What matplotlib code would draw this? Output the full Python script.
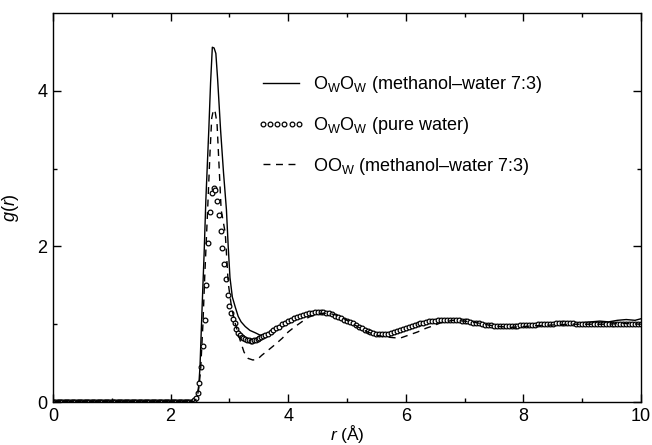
import numpy as np
import matplotlib
matplotlib.use("Agg")
import matplotlib.pyplot as plt

plt.rcParams["font.family"] = ["Liberation Sans", "DejaVu Sans"]
plt.rcParams["mathtext.fontset"] = "custom"
plt.rcParams["mathtext.rm"] = "Liberation Sans"
plt.rcParams["mathtext.it"] = "Liberation Sans:italic"

# O_W O_W in methanol-water 7:3 (solid line)
r_ww_mix = [0.0, 2.35, 2.40, 2.45, 2.48, 2.50, 2.54, 2.57, 2.60, 2.65, 2.68, 2.71,
            2.74, 2.77, 2.80, 2.85, 2.90, 2.95, 2.98, 3.01, 3.05, 3.10, 3.15, 3.20,
            3.27, 3.35, 3.44, 3.52, 3.60, 3.70, 3.80, 3.90, 4.00, 4.10, 4.20, 4.30,
            4.40, 4.50, 4.60, 4.70, 4.80, 4.90, 5.00, 5.10, 5.20, 5.30, 5.40, 5.50,
            5.60, 5.70, 5.80, 5.90, 6.00, 6.20, 6.40, 6.60, 6.80, 7.00, 7.20, 7.40,
            7.60, 7.80, 8.00, 8.20, 8.40, 8.60, 8.80, 9.00, 9.15, 9.30, 9.45, 9.60,
            9.75, 9.90, 10.0]
g_ww_mix = [0.0, 0.0, 0.01, 0.06, 0.22, 0.45, 1.30, 1.90, 2.60, 3.50, 4.10, 4.56,
            4.55, 4.48, 4.15, 3.50, 2.95, 2.47, 2.00, 1.60, 1.35, 1.22, 1.10, 1.03,
            0.97, 0.92, 0.89, 0.86, 0.86, 0.90, 0.95, 0.99, 1.03, 1.07, 1.09, 1.11,
            1.13, 1.14, 1.14, 1.13, 1.11, 1.08, 1.04, 1.00, 0.96, 0.93, 0.90, 0.88,
            0.875, 0.88, 0.90, 0.92, 0.95, 1.00, 1.03, 1.05, 1.06, 1.05, 1.02, 0.99,
            0.98, 0.98, 0.985, 0.995, 1.00, 1.01, 1.01, 1.02, 1.03, 1.04, 1.03, 1.05,
            1.06, 1.05, 1.07]

# O O_W in methanol-water 7:3 (dashed line)
r_ow_mix = [0.0, 2.35, 2.40, 2.45, 2.48, 2.51, 2.55, 2.58, 2.63, 2.67, 2.70, 2.73,
            2.76, 2.79, 2.86, 2.93, 2.98, 3.04, 3.10, 3.18, 3.25, 3.32, 3.40, 3.48,
            3.55, 3.65, 3.78, 3.90, 4.00, 4.10, 4.23, 4.35, 4.45, 4.55, 4.65, 4.75,
            4.85, 4.95, 5.05, 5.20, 5.35, 5.50, 5.62, 5.75, 5.90, 6.05, 6.20, 6.35,
            6.47, 6.60, 6.80, 7.00, 7.20, 7.40, 7.60, 7.80, 8.00, 8.20, 8.50, 8.80,
            9.10, 9.40, 9.70, 10.0]
g_ow_mix = [0.0, 0.0, 0.01, 0.05, 0.18, 0.40, 1.00, 1.60, 2.47, 3.20, 3.65, 3.76,
            3.72, 3.58, 2.47, 2.17, 1.53, 1.20, 1.01, 0.80, 0.64, 0.56, 0.54, 0.55,
            0.60, 0.66, 0.74, 0.82, 0.90, 0.96, 1.03, 1.09, 1.12, 1.14, 1.14, 1.13,
            1.11, 1.07, 1.03, 0.96, 0.90, 0.86, 0.84, 0.83, 0.82, 0.86, 0.90, 0.95,
            0.98, 1.02, 1.05, 1.04, 1.02, 0.99, 0.97, 0.96, 0.97, 0.98, 0.99, 1.00,
            1.00, 1.00, 1.01, 1.00]

# O_W O_W in pure water (open circles)
r_water_base = np.round(np.arange(0, 120) * 0.02, 2)         # 0.00 .. 2.38
g_water_base = [0.0] * 120
r_water_peak = np.round(2.40 + np.arange(0, 40) * 0.03, 2)   # 2.40 .. 3.57
g_water_peak = [0.02, 0.05, 0.12, 0.24, 0.45, 0.72, 1.05, 1.50, 2.05, 2.44,
                2.68, 2.75, 2.73, 2.58, 2.40, 2.20, 1.98, 1.78, 1.58, 1.38,
                1.24, 1.14, 1.07, 1.01, 0.94, 0.89, 0.86, 0.84, 0.82, 0.81,
                0.80, 0.795, 0.79, 0.79, 0.795, 0.80, 0.81, 0.82, 0.835, 0.85]
r_water_tail = np.round(np.arange(72, 201) * 0.05, 2)        # 3.60 .. 10.00
g_water_tail = [0.86, 0.88, 0.90, 0.92, 0.95, 0.97, 1.00, 1.02, 1.04, 1.06,   # 3.60
                1.08, 1.095, 1.11, 1.12, 1.13, 1.14, 1.15, 1.155, 1.16, 1.16,  # 4.10
                1.16, 1.15, 1.14, 1.125, 1.11, 1.095, 1.08, 1.06, 1.045, 1.03, # 4.60
                1.01, 0.99, 0.97, 0.95, 0.93, 0.91, 0.90, 0.89, 0.88, 0.875,   # 5.10
                0.875, 0.875, 0.88, 0.89, 0.90, 0.91, 0.92, 0.935, 0.95, 0.96, # 5.60
                0.975, 0.99, 1.00, 1.01, 1.02, 1.03, 1.035, 1.04, 1.045, 1.05, # 6.10
                1.055, 1.06, 1.06, 1.06, 1.06, 1.055, 1.05, 1.045, 1.04, 1.035,# 6.60
                1.03, 1.02, 1.015, 1.01, 1.00, 0.995, 0.99, 0.985, 0.98, 0.98, # 7.10
                0.975, 0.975, 0.975, 0.975, 0.975, 0.98, 0.98, 0.985, 0.985, 0.99, # 7.60
                0.99, 0.995, 0.995, 1.00, 1.00, 1.00, 1.005, 1.005, 1.005, 1.01,   # 8.10
                1.01, 1.01, 1.01, 1.01, 1.01, 1.01, 1.005, 1.005, 1.005, 1.00,     # 8.60
                1.00, 1.00, 1.00, 1.00, 1.00, 1.00, 1.00, 1.00, 1.00, 1.00,        # 9.10
                1.005, 1.005, 1.005, 1.005, 1.005, 1.00, 1.00, 1.00, 1.00]         # 9.60

r_water = np.concatenate([r_water_base, r_water_peak, r_water_tail])
g_water = np.concatenate([g_water_base, g_water_peak, g_water_tail])

x_ticks = [0, 2, 4, 6, 8, 10]
y_ticks = [0, 2, 4]

fig = plt.figure(figsize=(6.52, 4.45), dpi=100)
ax = fig.add_axes([0.0813, 0.0966, 0.9017, 0.8742])

ax.plot(r_ww_mix, g_ww_mix, color="black", lw=1.0,
        label="O$_\\mathrm{W}$O$_\\mathrm{W}$ (methanol\u2013water 7:3)")
ax.plot(r_water, g_water, linestyle="none", marker="o", markersize=3.4,
        markerfacecolor="white", markeredgecolor="black", markeredgewidth=0.9,
        label="O$_\\mathrm{W}$O$_\\mathrm{W}$ (pure water)")
ax.plot(r_ow_mix, g_ow_mix, color="black", lw=1.0, dashes=(5, 4),
        label="OO$_\\mathrm{W}$ (methanol\u2013water 7:3)")

ax.set_xlim(0, 10)
ax.set_ylim(0, 5)
ax.set_xticks(x_ticks)
ax.set_yticks(y_ticks)
ax.set_xticks(np.arange(1, 10, 2), minor=True)
ax.set_yticks([1, 3], minor=True)
ax.tick_params(which="both", direction="in", top=True, right=True,
               labelsize=13, width=1.0, pad=4)
ax.tick_params(which="major", length=6)
ax.tick_params(which="minor", length=3)
for spine in ax.spines.values():
    spine.set_linewidth(1.0)

ax.set_xlabel("$r$ (\u00c5)", fontsize=12.5, labelpad=-1)
ax.set_ylabel("$g$($r$)", fontsize=13, labelpad=12)

handles, labels = ax.get_legend_handles_labels()
legend = ax.legend(handles, labels, loc="upper left", bbox_to_anchor=(0.32, 0.885),
                   frameon=False, fontsize=13, handlelength=2.6, handletextpad=0.5,
                   labelspacing=1.1, numpoints=6)

fig.savefig("out.png", dpi=100)
